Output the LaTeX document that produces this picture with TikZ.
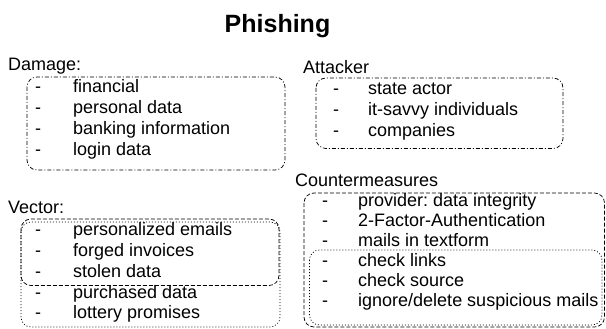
\documentclass[tikz,border=0pt]{standalone}
\usepackage{fontspec}
\setmainfont{Liberation Sans}
\frenchspacing
\begin{document}
\begin{tikzpicture}[x=1pt,y=-1pt,
  txt/.style={anchor=base west,inner sep=0pt,font=\fontsize{18}{21}\selectfont},
  itemdash/.style={anchor=base west,inner sep=0pt,font=\fontsize{18}{21}\selectfont},
  frame/.style={line width=0.75pt,rounded corners=10pt,black},
  dashdotframe/.style={frame,dash pattern=on 4pt off 2pt on 1pt off 2pt},
  dashframe/.style={frame,dash pattern=on 4pt off 2pt},
  dotframe/.style={frame,dash pattern=on 1pt off 2pt}]
\useasboundingbox (0,0) rectangle (606,329);

% title
\node[anchor=base,inner sep=0pt,font=\bfseries\fontsize{25}{28}\selectfont] (title) at (277.5,33) {Phishing};

% Damage
\node[txt] (damage) at (8,70.5) {Damage:};
\draw[dashdotframe] (27,77) rectangle (285,170);
\foreach \y/\t [count=\i] in {92.5/{financial}, 113.5/{personal data}, 134.5/{banking information}, 155.5/{login data}}{
  \node[itemdash] (dmgd\i) at (35,\y) {-};
  \node[txt] (dmg\i) at (73,\y) {\t};
}

% Attacker
\node[txt] (attacker) at (303,73.5) {Attacker};
\draw[dashdotframe] (316,78) rectangle (563,148.5);
\foreach \y/\t [count=\i] in {95/{state actor}, 116/{it-savvy individuals}, 137/{companies}}{
  \node[itemdash] (attd\i) at (333,\y) {-};
  \node[txt] (att\i) at (368,\y) {\t};
}

% Vector
\node[txt] (vector) at (8,213) {Vector:};
\draw[dashframe] (21,219) rectangle (279,285.5);
\draw[dotframe] (21,222) rectangle (280,327);
\foreach \y/\t [count=\i] in {235/{personalized emails}, 256/{forged invoices}, 277/{stolen data}, 298/{purchased data}, 318.5/{lottery promises}}{
  \node[itemdash] (vecd\i) at (35,\y) {-};
  \node[txt] (vec\i) at (73,\y) {\t};
}

% Countermeasures
\node[txt] (counter) at (295,186.5) {Countermeasures};
\draw[dashframe] (304,193) rectangle (604.5,327);
\draw[dotframe] (309.5,250) rectangle (602,325);
\foreach \y/\t [count=\i] in {206.5/{provider: data integrity}, 226.5/{2-Factor-Authentication}, 246.5/{mails in textform}, 266.5/{check links}, 286.5/{check source}, 306.5/{ignore/delete suspicious mails}}{
  \node[itemdash] (cmd\i) at (322,\y) {-};
  \node[txt] (cm\i) at (358,\y) {\t};
}
\end{tikzpicture}
\end{document}
